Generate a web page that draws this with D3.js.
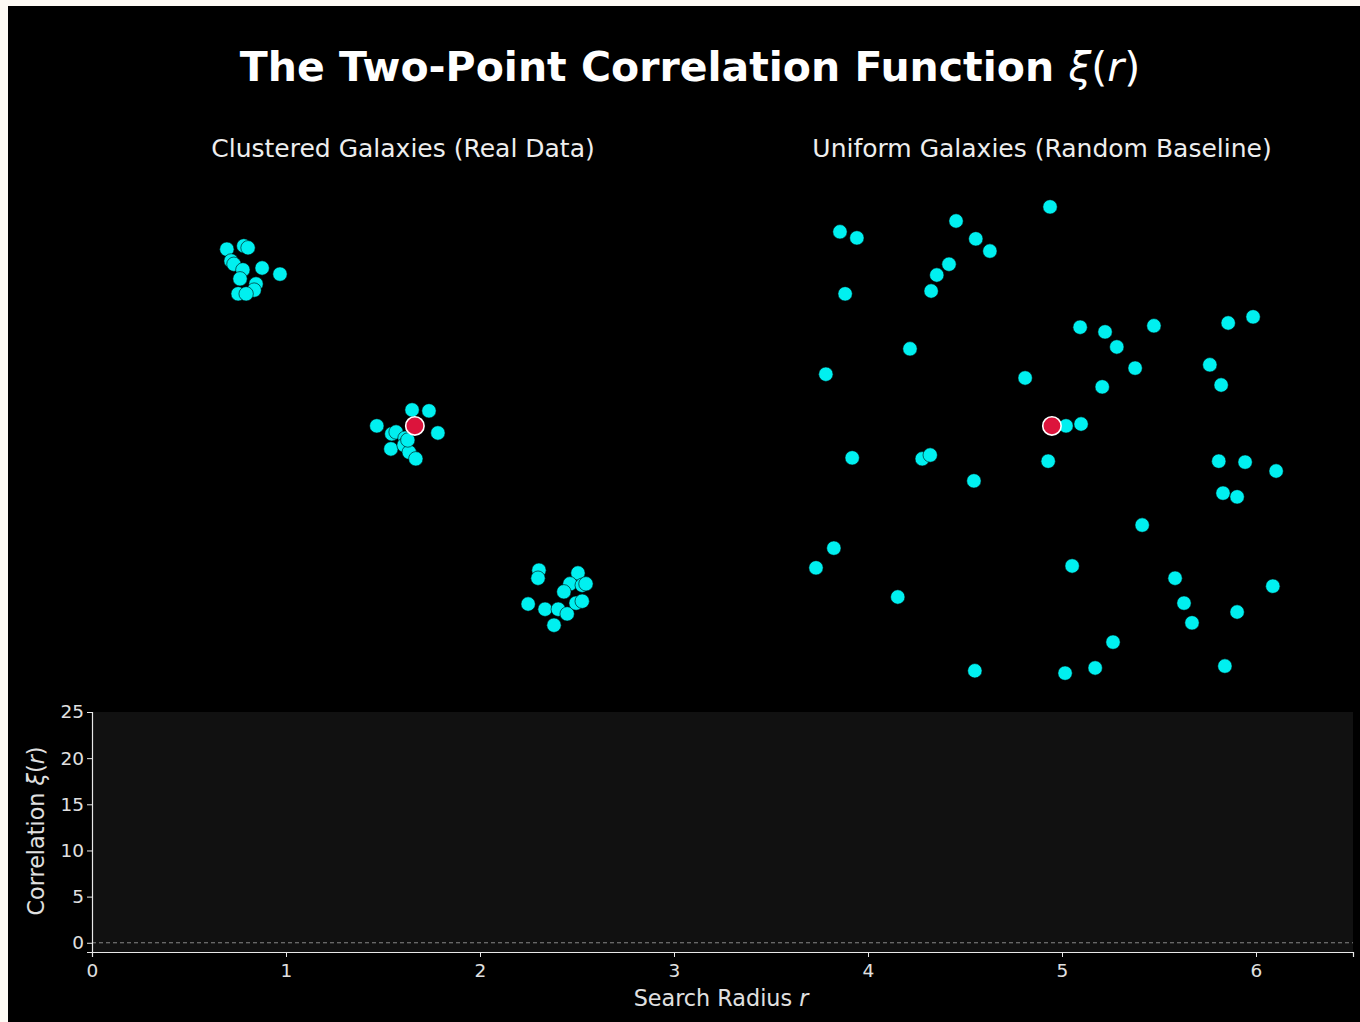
<!DOCTYPE html>
<html>
<head>
<meta charset="utf-8">
<script src="https://cdn.jsdelivr.net/npm/d3@7"></script>
<style>
  html, body { margin: 0; padding: 0; background: #fdfaf4; }
  svg { display: block; }
  text { font-family: "DejaVu Sans", sans-serif; }
</style>
</head>
<body>
<script>
// ---------- data ----------
const clusteredX = [1.21,1.57,1.66,1.30,1.36,1.55,1.96,2.34,1.49,1.83,1.79,1.45,1.62,
  4.40,4.72,4.81,5.00,4.70,4.98,5.09,5.23,5.15,5.51,5.70,5.06,
  7.85,7.83,8.68,8.51,8.77,8.85,8.38,7.62,7.98,8.26,8.45,8.64,8.77,8.17];
const clusteredY = [9.06,9.13,9.09,8.81,8.74,8.62,8.66,8.53,8.43,8.32,8.19,8.11,8.11,
  5.30,5.13,5.17,5.04,4.81,4.89,4.74,4.60,5.64,5.62,5.15,5.00,
  2.23,2.06,2.17,1.94,1.91,1.94,1.77,1.51,1.40,1.40,1.30,1.53,1.57,1.06];
const uniformX = [0.68,1.04,3.15,3.57,3.87,5.15,3.00,2.74,2.62,0.79,2.17,0.38,5.79,6.32,6.57,7.36,8.94,9.47,
  4.62,6.96,8.55,6.26,8.79,5.49,5.81,0.94,2.43,2.60,5.11,8.74,9.30,9.96,3.53,8.83,9.13,7.11,
  0.55,0.17,5.62,7.81,1.91,8.00,9.89,9.13,8.17,6.49,3.55,5.47,6.11,8.87];
const uniformY = [9.43,9.30,9.66,9.28,9.02,9.96,8.74,8.51,8.17,8.11,6.94,6.40,7.40,7.30,6.98,7.43,7.49,7.62,
  6.32,6.53,6.60,6.13,6.17,5.30,5.34,4.62,4.60,4.68,4.55,4.55,4.53,4.34,4.13,3.87,3.79,3.19,
  2.70,2.28,2.32,2.06,1.66,1.53,1.89,1.34,1.11,0.70,0.09,0.04,0.15,0.19];
const centerClustered = [5.21, 5.30];
const centerUniform = [5.19, 5.30];
const xTicks = [0, 1, 2, 3, 4, 5, 6];
const yTicks = [0, 5, 10, 15, 20, 25];
const panelTitles = ["Clustered Galaxies (Real Data)", "Uniform Galaxies (Random Baseline)"];

// ---------- layout ----------
const W = 1360, H = 1022;
const svg = d3.select("body").append("svg").attr("width", W).attr("height", H);
svg.append("rect").attr("x", 8).attr("y", 6).attr("width", W - 8).attr("height", H - 6).attr("fill", "#000");

// title
const title = svg.append("text").attr("x", 690).attr("y", 81).attr("text-anchor", "middle")
  .attr("fill", "#fff").attr("font-size", 41).attr("font-weight", "bold");
title.append("tspan").text("The Two-Point Correlation Function ");
title.append("tspan").attr("font-weight", "normal").attr("font-style", "italic").text("ξ");
title.append("tspan").attr("font-weight", "normal").text("(");
title.append("tspan").attr("font-weight", "normal").attr("font-style", "italic").text("r");
title.append("tspan").attr("font-weight", "normal").text(")");

// scatter panels
const panels = [
  {left: 170, xs: clusteredX, ys: clusteredY, c: centerClustered, cx: 403},
  {left: 808, xs: uniformX, ys: uniformY, c: centerUniform, cx: 1042}
];
panels.forEach((p, i) => {
  const x = d3.scaleLinear().domain([0, 10]).range([p.left, p.left + 470]);
  const y = d3.scaleLinear().domain([0, 10]).range([675, 205]);
  svg.append("text").attr("x", p.cx).attr("y", 157).attr("text-anchor", "middle")
    .attr("fill", "#eee").attr("font-size", 25).text(panelTitles[i]);
  const g = svg.append("g");
  g.selectAll("circle").data(d3.range(p.xs.length)).join("circle")
    .attr("cx", j => x(p.xs[j])).attr("cy", j => y(p.ys[j])).attr("r", 7.2)
    .attr("fill", "#00f0f0").attr("stroke", "#000").attr("stroke-width", 0.6);
  g.append("circle").attr("cx", x(p.c[0])).attr("cy", y(p.c[1])).attr("r", 9.2)
    .attr("fill", "#dc143c").attr("stroke", "#fff").attr("stroke-width", 1.6);
});

// bottom correlation axes
const bx = d3.scaleLinear().domain([0, 6.5]).range([92, 1353]);
const by = d3.scaleLinear().domain([-1, 25]).range([952, 712]);
svg.append("rect").attr("x", bx(0)).attr("y", by(25)).attr("width", bx(6.5) - bx(0))
  .attr("height", by(-1) - by(25)).attr("fill", "#111111");
svg.append("line").attr("x1", bx(0)).attr("x2", bx(6.5)).attr("y1", by(0)).attr("y2", by(0))
  .attr("stroke", "#888").attr("stroke-width", 1).attr("stroke-dasharray", "4,3");

const xAxis = svg.append("g").attr("transform", `translate(0,${by(-1)})`)
  .call(d3.axisBottom(bx).tickValues(xTicks).tickFormat(d3.format("d")).tickSizeOuter(0).tickSize(5));
const yAxis = svg.append("g").attr("transform", `translate(${bx(0)},0)`)
  .call(d3.axisLeft(by).tickValues(yTicks).tickFormat(d3.format("d")).tickSizeOuter(0).tickSize(5));
[xAxis, yAxis].forEach(a => {
  a.select(".domain").attr("stroke", "#e8e8e8").attr("stroke-width", 1.2);
  a.selectAll(".tick line").attr("stroke", "#e8e8e8");
  a.selectAll(".tick text").attr("fill", "#e0e0e0").attr("font-size", 18.5)
    .attr("font-family", "DejaVu Sans, sans-serif");
});
xAxis.selectAll(".tick text").attr("dy", "0.9em");

const xl = svg.append("text").attr("x", 721).attr("y", 1006).attr("text-anchor", "middle")
  .attr("fill", "#e0e0e0").attr("font-size", 22.3);
xl.append("tspan").text("Search Radius ");
xl.append("tspan").attr("font-style", "italic").text("r");

const yl = svg.append("text").attr("transform", "translate(44,831) rotate(-90)")
  .attr("text-anchor", "middle").attr("fill", "#e0e0e0").attr("font-size", 22.3);
yl.append("tspan").text("Correlation ");
yl.append("tspan").attr("font-style", "italic").text("ξ");
yl.append("tspan").text("(");
yl.append("tspan").attr("font-style", "italic").text("r");
yl.append("tspan").text(")");
</script>
</body>
</html>
